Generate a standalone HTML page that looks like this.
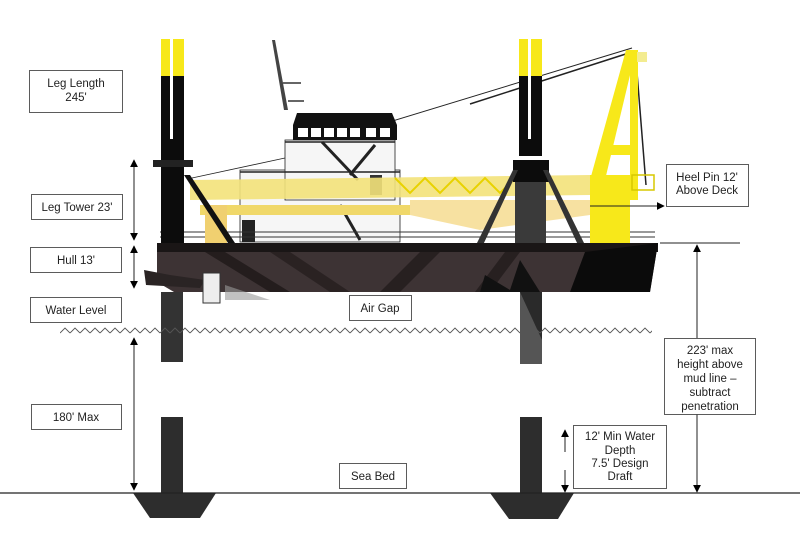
<!DOCTYPE html>
<html><head><style>
html,body{margin:0;padding:0;background:#fff;}
svg{display:block;}
text{font-family:"Liberation Sans",Arial,sans-serif;font-size:11.5px;fill:#222;text-anchor:middle;}
</style></head><body>
<svg width="800" height="540" viewBox="0 0 800 540" xmlns="http://www.w3.org/2000/svg">
<defs>
<marker id="ah" viewBox="0 0 10 10" refX="9" refY="5" markerWidth="8" markerHeight="8" orient="auto-start-reverse"><path d="M0,0 L10,5 L0,10z" fill="#000"/></marker>
<pattern id="wave" x="60" y="326" width="10" height="9" patternUnits="userSpaceOnUse"><path d="M0,7 L5,2 L10,7" stroke="#555" stroke-width="0.9" fill="none"/></pattern>
</defs>
<rect width="800" height="540" fill="#fff"/>

<!-- cables -->
<line x1="330" y1="140" x2="632" y2="48" stroke="#222" stroke-width="1"/>
<line x1="470" y1="104" x2="632" y2="52" stroke="#222" stroke-width="1.5"/>
<line x1="192" y1="178" x2="285" y2="158" stroke="#222" stroke-width="0.8"/>
<line x1="636" y1="60" x2="646" y2="185" stroke="#222" stroke-width="1.5"/>

<!-- mast -->
<polygon points="272,40 275,40 288,110 284,110" fill="#444"/>
<rect x="283" y="82" width="18" height="2" fill="#666"/>
<rect x="288" y="100" width="16" height="2" fill="#666"/>

<!-- superstructure -->
<rect x="240" y="170" width="160" height="72" fill="#f6f6f6" stroke="#222" stroke-width="0.8"/>
<rect x="285" y="140" width="110" height="60" fill="#f6f6f6" stroke="#222" stroke-width="0.8"/>
<polygon points="297,113 392,113 397,125 293,125" fill="#111"/>
<rect x="293" y="125" width="104" height="15" fill="#111"/>
<g fill="#fff"><rect x="298" y="128" width="10" height="9"/><rect x="311" y="128" width="10" height="9"/><rect x="324" y="128" width="10" height="9"/><rect x="337" y="128" width="10" height="9"/><rect x="350" y="128" width="10" height="9"/><rect x="366" y="128" width="10" height="9"/><rect x="380" y="128" width="10" height="9"/></g>
<line x1="240" y1="172" x2="400" y2="172" stroke="#222" stroke-width="1.5"/>
<line x1="285" y1="142" x2="395" y2="142" stroke="#222" stroke-width="1.5"/>
<line x1="322" y1="142" x2="358" y2="180" stroke="#222" stroke-width="3"/>
<line x1="375" y1="145" x2="350" y2="175" stroke="#222" stroke-width="3"/>
<line x1="340" y1="205" x2="360" y2="240" stroke="#222" stroke-width="3"/>
<rect x="242" y="220" width="13" height="22" fill="#222"/>
<rect x="370" y="175" width="12" height="20" fill="#333"/>
<line x1="160" y1="232" x2="655" y2="232" stroke="#333" stroke-width="1"/>
<line x1="160" y1="237" x2="655" y2="237" stroke="#333" stroke-width="1"/>

<!-- yellow crane boom -->
<polygon points="190,180 590,175 590,195 190,200" fill="#f3e27a" opacity="0.9"/>
<rect x="200" y="205" width="210" height="10" fill="#f0d86a"/>
<rect x="205" y="205" width="22" height="38" fill="#f0d070"/>
<path d="M395,178 l15,15 l15,-15 l15,15 l15,-15 l15,15 l15,-15 l15,15 l15,-15 l15,15" stroke="#e8d200" stroke-width="2" fill="none"/>
<polygon points="410,200 590,200 590,215 480,230 410,215" fill="#f5d98a" opacity="0.8"/>

<!-- right yellow crane -->
<polygon points="590,180 626,50 636,50 605,180" fill="#f7e81a"/>
<rect x="630" y="50" width="8" height="150" fill="#f7e81a"/>
<rect x="605" y="145" width="30" height="10" fill="#f7e81a"/>
<rect x="590" y="175" width="40" height="68" fill="#f7e81a"/>
<rect x="632" y="175" width="22" height="15" fill="none" stroke="#d7c800" stroke-width="1.5"/>
<rect x="637" y="52" width="10" height="10" fill="#f3ec90"/>

<!-- legs upper -->
<rect x="161" y="39" width="23" height="37" fill="#f7e81a"/>
<rect x="161" y="76" width="23" height="170" fill="#0c0c0c"/>
<rect x="170" y="39" width="3" height="100" fill="#fff"/>
<rect x="153" y="160" width="40" height="7" fill="#222"/>
<polygon points="184,175 190,175 235,243 228,243" fill="#111"/>
<rect x="519" y="39" width="23" height="37" fill="#f7e81a"/>
<rect x="519" y="76" width="23" height="80" fill="#0c0c0c"/>
<rect x="528" y="39" width="3" height="100" fill="#fff"/>
<rect x="513" y="160" width="36" height="22" fill="#0c0c0c"/>
<rect x="515" y="182" width="31" height="62" fill="#3a3a3a"/>
<polygon points="513,170 518,170 483,245 476,245" fill="#333"/>
<polygon points="543,170 548,170 585,245 578,245" fill="#333"/>

<!-- hull -->
<polygon points="157,243 658,243 650,292 174,292 157,282" fill="#3d3334"/>
<rect x="157" y="243" width="501" height="9" fill="#1a1616"/>
<polygon points="585,252 658,243 650,292 570,292" fill="#0b0b0b"/>
<polygon points="205,252 225,252 290,292 270,292" fill="#1e1818" opacity="0.8"/>
<polygon points="270,252 290,252 350,292 330,292" fill="#1e1818" opacity="0.6"/>
<polygon points="420,252 440,252 400,292 380,292" fill="#1e1818" opacity="0.7"/>
<polygon points="505,252 520,252 490,292 475,292" fill="#1e1818" opacity="0.7"/>
<polygon points="485,275 510,290 520,260 540,292 480,292" fill="#111"/>
<polygon points="144,270 170,275 205,280 200,288 146,285" fill="#2a2424"/>
<rect x="203" y="273" width="17" height="30" fill="#eee" stroke="#333"/>
<polygon points="225,285 270,300 225,300" fill="#999" opacity="0.6"/>

<!-- legs below hull -->
<rect x="161" y="292" width="22" height="70" fill="#333"/>
<rect x="520" y="292" width="22" height="72" fill="#555"/>
<polygon points="520,292 542,292 542,340" fill="#2a2a2a"/>
<rect x="161" y="417" width="22" height="76" fill="#2d2d2d"/>
<rect x="520" y="417" width="22" height="76" fill="#2d2d2d"/>
<polygon points="133,493 216,493 200,518 150,518" fill="#2d2d2d"/>
<polygon points="490,493 574,493 558,519 509,519" fill="#2d2d2d"/>

<!-- water -->
<rect x="60" y="326" width="592" height="9" fill="url(#wave)"/>

<!-- sea bed -->
<line x1="0" y1="493" x2="800" y2="493" stroke="#222" stroke-width="1.2"/>
<line x1="660" y1="243" x2="740" y2="243" stroke="#222" stroke-width="1"/>

<!-- arrows -->
<g stroke="#222" stroke-width="1" fill="none">
<line x1="134" y1="160" x2="134" y2="240" marker-start="url(#ah)" marker-end="url(#ah)"/>
<line x1="134" y1="246" x2="134" y2="288" marker-start="url(#ah)" marker-end="url(#ah)"/>
<line x1="134" y1="338" x2="134" y2="490" marker-start="url(#ah)" marker-end="url(#ah)"/>
<line x1="697" y1="245" x2="697" y2="338" marker-start="url(#ah)"/>
<line x1="697" y1="414" x2="697" y2="492" marker-end="url(#ah)"/>
<line x1="565" y1="430" x2="565" y2="452" marker-start="url(#ah)"/>
<line x1="565" y1="470" x2="565" y2="492" marker-end="url(#ah)"/>
<line x1="590" y1="206" x2="664" y2="206" marker-end="url(#ah)"/>
</g>

<!-- label boxes -->
<g fill="#fff" stroke="#333" stroke-width="0.8">
<rect x="29.5" y="70.5" width="93" height="42"/>
<rect x="31.5" y="194.5" width="91" height="25"/>
<rect x="30.5" y="247.5" width="91" height="25"/>
<rect x="30.5" y="297.5" width="91" height="25"/>
<rect x="349.5" y="295.5" width="62" height="25"/>
<rect x="31.5" y="404.5" width="90" height="25"/>
<rect x="339.5" y="463.5" width="67" height="25"/>
<rect x="573.5" y="425.5" width="93" height="63"/>
<rect x="664.5" y="338.5" width="91" height="76"/>
<rect x="666.5" y="164.5" width="82" height="42"/>
</g>
<text x="76" y="87">Leg Length</text><text x="76" y="101">245'</text>
<text x="77" y="211">Leg Tower 23'</text>
<text x="76" y="264">Hull 13'</text>
<text x="76" y="314">Water Level</text>
<text x="380" y="312">Air Gap</text>
<text x="76" y="421">180' Max</text>
<text x="373" y="480">Sea Bed</text>
<text x="620" y="440">12' Min Water</text><text x="620" y="454">Depth</text><text x="620" y="467">7.5' Design</text><text x="620" y="480">Draft</text>
<text x="710" y="354">223' max</text><text x="710" y="368">height above</text><text x="710" y="382">mud line –</text><text x="710" y="396">subtract</text><text x="710" y="410">penetration</text>
<text x="707" y="181">Heel Pin 12'</text><text x="707" y="194">Above Deck</text>
</svg>
</body></html>
